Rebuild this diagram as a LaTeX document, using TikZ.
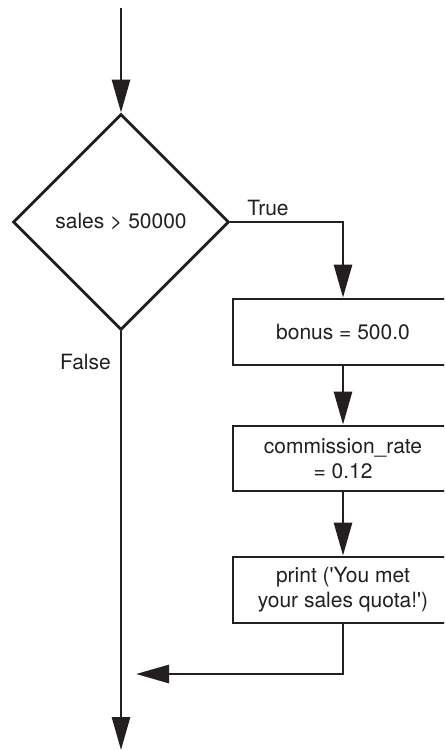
\documentclass[tikz,border=0pt]{standalone}
\usepackage{fontspec}
\setmainfont{TeX Gyre Heros}
\usetikzlibrary{shapes.geometric,arrows.meta}
\definecolor{ink}{HTML}{231F20}
\tikzset{
  flow/.style={line width=2.8pt, draw=ink},
  arr/.style={flow, -{Triangle[length=33pt,width=18pt]}},
  stepbox/.style={draw=ink, line width=2.8pt, minimum width=220pt, minimum height=66pt,
     inner sep=0pt, align=center, font=\fontsize{21pt}{25pt}\selectfont, text=ink},
  decision/.style={diamond, draw=ink, line width=2.8pt, minimum width=216pt, minimum height=216pt,
     inner sep=0pt, font=\fontsize{21pt}{25pt}\selectfont, text=ink},
  lbl/.style={font=\fontsize{21pt}{25pt}\selectfont, text=ink, inner sep=0pt}
}
\begin{document}
\begin{tikzpicture}[x=1pt,y=-1pt]
  \clip (0,0) rectangle (444,751);
  \fill[white] (0,0) rectangle (444,751);
  \coordinate (start) at (121,8);
  \node[decision] (dec) at (121,222) {sales > 50000};
  \node[stepbox] (b1) at (343,332) {bonus = 500.0};
  \node[stepbox, minimum height=65pt] (b2) at (343,458.5) {commission\_rate\\= 0.12};
  \node[stepbox] (b3) at (343,590) {print (\textquotesingle You met\\your sales quota!\textquotesingle)};
  \coordinate (tcorner) at (343,222);
  \coordinate (bcorner) at (343,674);
  \coordinate (join) at (136,674);
  \coordinate (finish) at (121,750);
  \node[lbl] (true) at (268,208) {True};
  \node[lbl, anchor=east] (false) at (111,362) {False};

  \draw[arr] (start) -- (dec.north);
  \draw[arr] (dec.east) -- (tcorner) -- (b1.north);
  \draw[arr] (b1.south) -- (b2.north);
  \draw[arr] (b2.south) -- (b3.north);
  \draw[arr] (b3.south) -- (bcorner) -- (join);
  \draw[arr] (dec.south) -- (finish);
\end{tikzpicture}
\end{document}
